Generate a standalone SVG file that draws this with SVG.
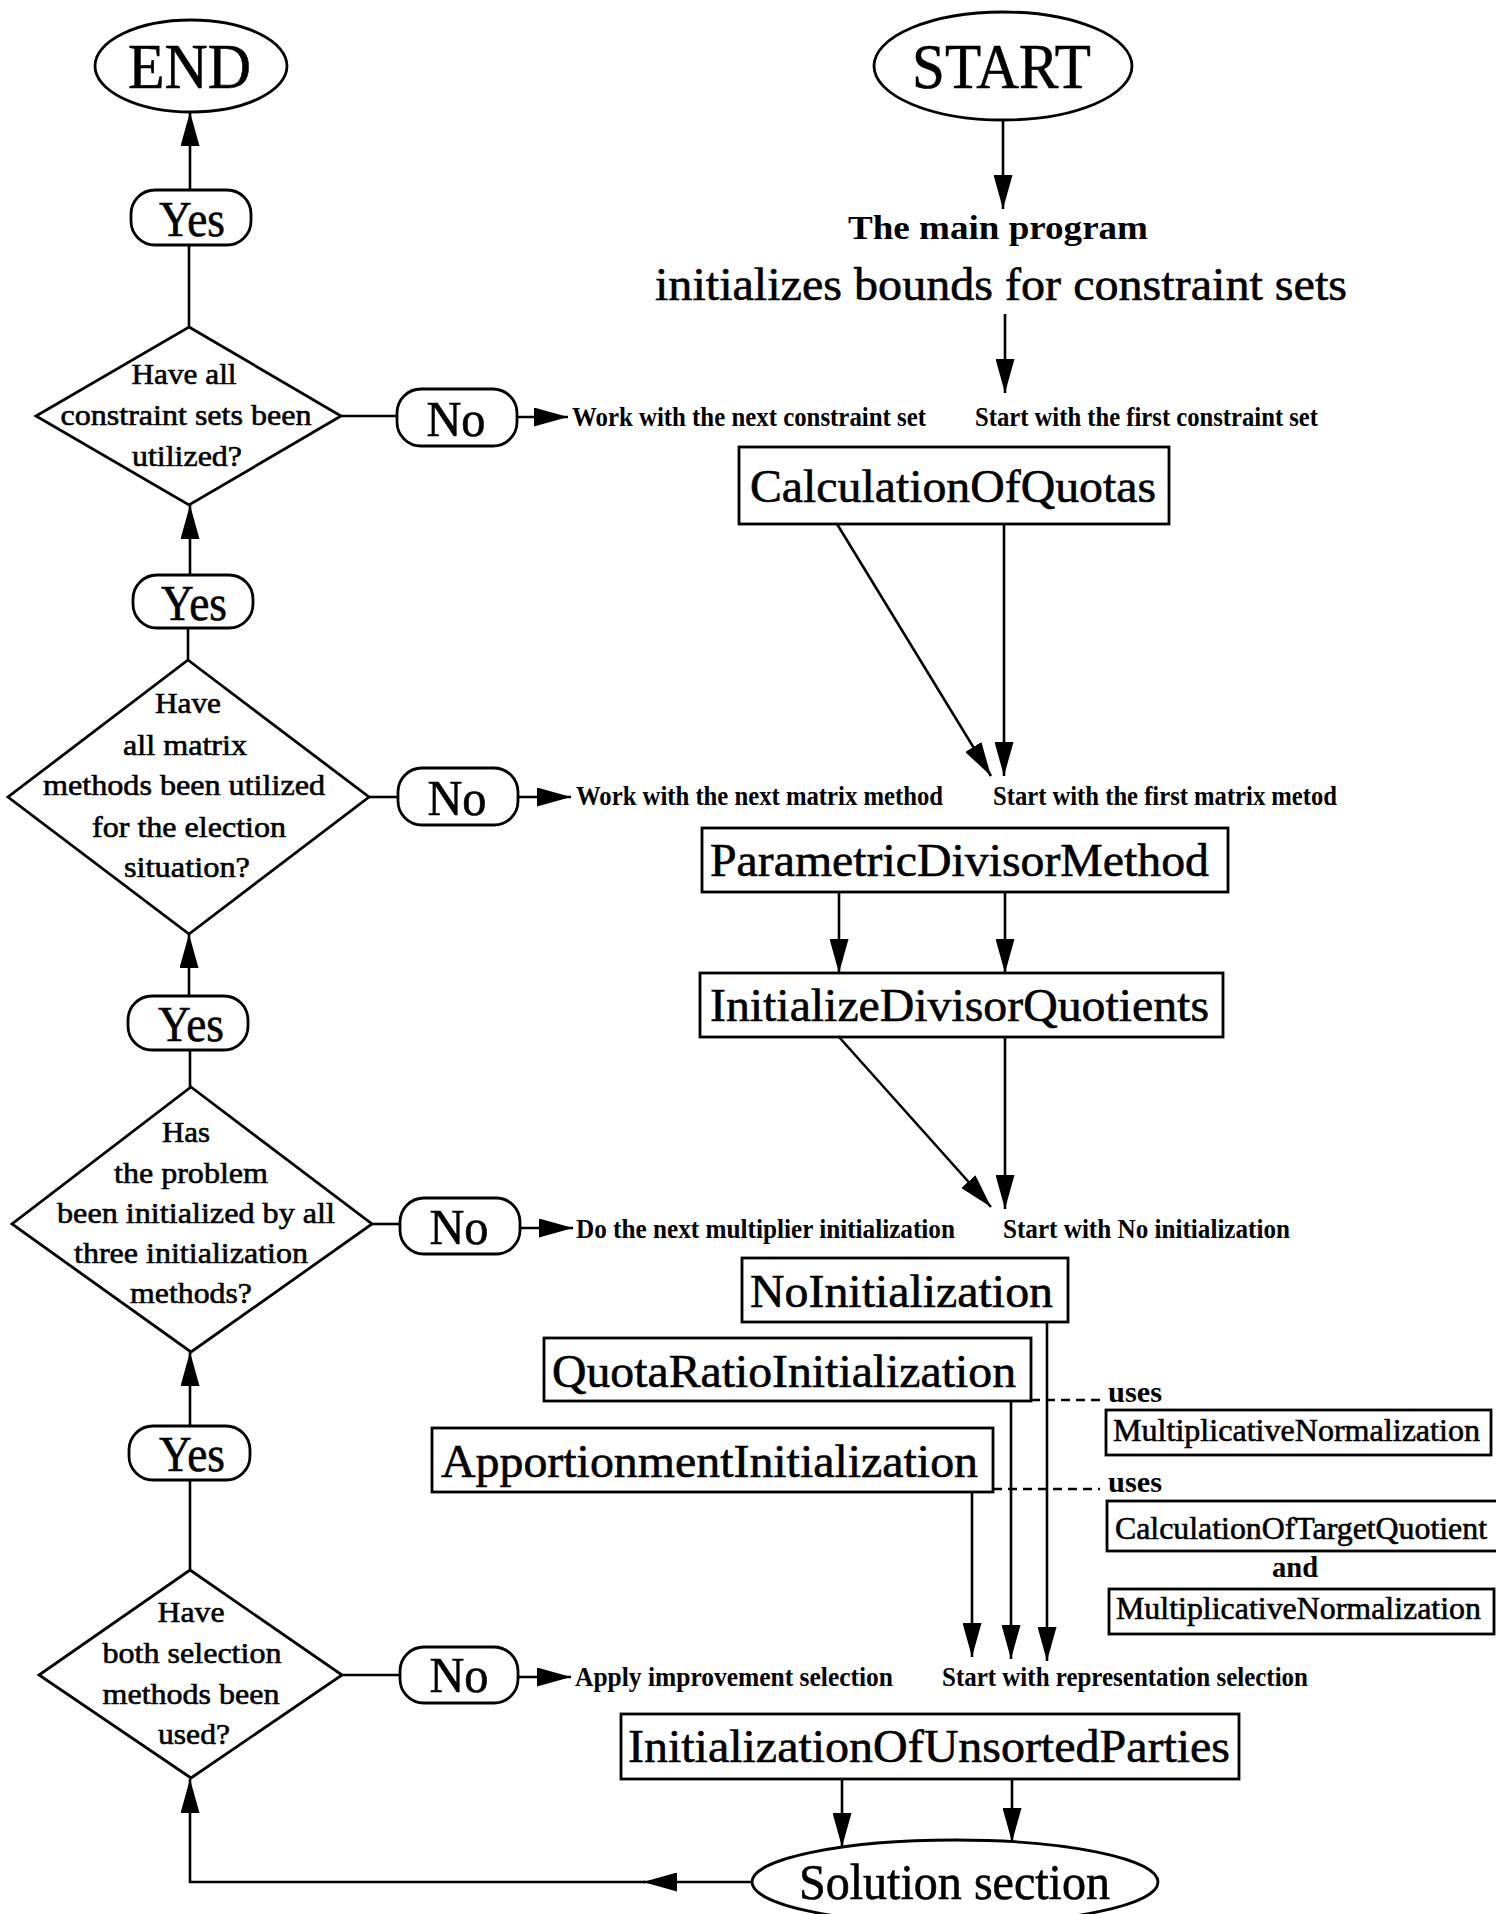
<svg xmlns="http://www.w3.org/2000/svg" width="1496" height="1914" viewBox="0 0 1496 1914">
  <style>
    .shape { fill: #fff; stroke: #000; stroke-width: 2.8; }
    .conn { fill: none; stroke: #000; stroke-width: 2.6; }
    .dash { fill: none; stroke: #000; stroke-width: 2.4; stroke-dasharray: 9 6; }
    text { font-family: "Liberation Serif", "Times New Roman", serif; fill: #000; }
    .heavy { stroke: #000; stroke-width: 0.6; }
    .term { font-size: 63px; }
    .pill { font-size: 50px; text-anchor: middle; }
    .dia { font-size: 30px; text-anchor: middle; }
    .box { font-size: 47px; }
    .sub { font-size: 32px; }
    .lbl { font-size: 27px; font-weight: bold; }
    .note { font-size: 30px; font-weight: bold; }
  </style>
  <defs>
    <marker id="ah" viewBox="0 0 34 19" refX="34" refY="9.5" markerWidth="34" markerHeight="19" markerUnits="userSpaceOnUse" orient="auto">
      <path d="M0,0 L34,9.5 L0,19 Z" fill="#000"/>
    </marker>
  </defs>
  <rect width="1496" height="1914" fill="#fff"/>

  <!-- connectors -->
  <g id="connectors">
    <!-- main column -->
    <path class="conn" d="M1003,120 L1003,209" marker-end="url(#ah)"/>
    <path class="conn" d="M1005,314 L1005,393" marker-end="url(#ah)"/>
    <path class="conn" d="M837,524 L991,776" marker-end="url(#ah)"/>
    <path class="conn" d="M1004,524 L1004,776" marker-end="url(#ah)"/>
    <path class="conn" d="M839,892 L839,973" marker-end="url(#ah)"/>
    <path class="conn" d="M1005,892 L1005,973" marker-end="url(#ah)"/>
    <path class="conn" d="M839,1037 L991,1207" marker-end="url(#ah)"/>
    <path class="conn" d="M1005,1037 L1005,1209" marker-end="url(#ah)"/>
    <path class="conn" d="M1047,1322 L1047,1661" marker-end="url(#ah)"/>
    <path class="conn" d="M1011,1401 L1011,1659" marker-end="url(#ah)"/>
    <path class="conn" d="M972,1492 L972,1657" marker-end="url(#ah)"/>
    <path class="dash" d="M1031,1400 L1102,1400"/>
    <path class="dash" d="M993,1489 L1100,1489"/>
    <path class="conn" d="M842,1779 L842,1847" marker-end="url(#ah)"/>
    <path class="conn" d="M1012,1779 L1012,1842" marker-end="url(#ah)"/>
    <!-- return path from the solution section -->
    <path class="conn" d="M752,1882 L643,1882" marker-end="url(#ah)"/>
    <path class="conn" d="M645,1882 L190,1882 L190,1779" marker-end="url(#ah)"/>
    <!-- decision column -->
    <path class="conn" d="M190,190 L190,112" marker-end="url(#ah)"/>
    <path class="conn" d="M189,327 L189,245"/>
    <path class="conn" d="M190,575 L190,505" marker-end="url(#ah)"/>
    <path class="conn" d="M188,660 L188,628"/>
    <path class="conn" d="M189,996 L189,934" marker-end="url(#ah)"/>
    <path class="conn" d="M190,1087 L190,1050"/>
    <path class="conn" d="M190,1426 L190,1352" marker-end="url(#ah)"/>
    <path class="conn" d="M190,1570 L190,1480"/>
    <!-- decision to No -->
    <path class="conn" d="M341,416 L397,416"/>
    <path class="conn" d="M369,797 L398,797"/>
    <path class="conn" d="M372,1224 L400,1224"/>
    <path class="conn" d="M342,1675 L400,1675"/>
    <!-- No to next step -->
    <path class="conn" d="M517,417 L568,417" marker-end="url(#ah)"/>
    <path class="conn" d="M518,797 L571,797" marker-end="url(#ah)"/>
    <path class="conn" d="M520,1228 L573,1228" marker-end="url(#ah)"/>
    <path class="conn" d="M518,1677 L571,1677" marker-end="url(#ah)"/>
  </g>

  <!-- terminals -->
  <g id="end">
    <ellipse class="shape" cx="191" cy="66" rx="96" ry="46"/>
    <text class="term heavy" x="128" y="88" textLength="123" lengthAdjust="spacingAndGlyphs">END</text>
  </g>
  <g id="start">
    <ellipse class="shape" cx="1003" cy="66" rx="129" ry="54"/>
    <text class="term heavy" x="912" y="88" textLength="179" lengthAdjust="spacingAndGlyphs">START</text>
  </g>

  <!-- main program -->
  <g id="main-program">
    <text x="848" y="239" font-size="34" font-weight="bold" textLength="300" lengthAdjust="spacingAndGlyphs">The main program</text>
    <text class="heavy" x="655" y="300" font-size="47" textLength="692" lengthAdjust="spacingAndGlyphs">initializes bounds for constraint sets</text>
  </g>

  <!-- step labels -->
  <g id="labels">
    <text class="lbl" x="572" y="426" textLength="354" lengthAdjust="spacingAndGlyphs">Work with the next constraint set</text>
    <text class="lbl" x="975" y="426" textLength="343" lengthAdjust="spacingAndGlyphs">Start with the first constraint set</text>
    <text class="lbl" x="576" y="805" textLength="367" lengthAdjust="spacingAndGlyphs">Work with the next matrix method</text>
    <text class="lbl" x="993" y="805" textLength="344" lengthAdjust="spacingAndGlyphs">Start with the first matrix metod</text>
    <text class="lbl" x="576" y="1238" textLength="379" lengthAdjust="spacingAndGlyphs">Do the next multiplier initialization</text>
    <text class="lbl" x="1003" y="1238" textLength="287" lengthAdjust="spacingAndGlyphs">Start with No initialization</text>
    <text class="lbl" x="575" y="1686" textLength="318" lengthAdjust="spacingAndGlyphs">Apply improvement selection</text>
    <text class="lbl" x="942" y="1686" textLength="366" lengthAdjust="spacingAndGlyphs">Start with representation selection</text>
  </g>

  <!-- procedures -->
  <g id="calculation-of-quotas">
    <rect class="shape" x="739" y="447" width="430" height="77"/>
    <text class="box heavy" x="750" y="502" textLength="406" lengthAdjust="spacingAndGlyphs">CalculationOfQuotas</text>
  </g>
  <g id="parametric-divisor-method">
    <rect class="shape" x="702" y="828" width="526" height="64"/>
    <text class="box heavy" x="710" y="876" textLength="499" lengthAdjust="spacingAndGlyphs">ParametricDivisorMethod</text>
  </g>
  <g id="initialize-divisor-quotients">
    <rect class="shape" x="700" y="973" width="523" height="64"/>
    <text class="box heavy" x="710" y="1021" textLength="499" lengthAdjust="spacingAndGlyphs">InitializeDivisorQuotients</text>
  </g>
  <g id="no-initialization">
    <rect class="shape" x="742" y="1258" width="326" height="64"/>
    <text class="box heavy" x="750" y="1307" textLength="303" lengthAdjust="spacingAndGlyphs">NoInitialization</text>
  </g>
  <g id="quota-ratio-initialization">
    <rect class="shape" x="544" y="1338" width="487" height="63"/>
    <text class="box heavy" x="552" y="1387" textLength="464" lengthAdjust="spacingAndGlyphs">QuotaRatioInitialization</text>
  </g>
  <g id="apportionment-initialization">
    <rect class="shape" x="432" y="1428" width="561" height="64"/>
    <text class="box heavy" x="441" y="1477" textLength="537" lengthAdjust="spacingAndGlyphs">ApportionmentInitialization</text>
  </g>
  <g id="initialization-of-unsorted-parties">
    <rect class="shape" x="621" y="1714" width="618" height="65"/>
    <text class="box heavy" x="628" y="1762" textLength="602" lengthAdjust="spacingAndGlyphs">InitializationOfUnsortedParties</text>
  </g>
  <g id="solution-section">
    <ellipse class="shape" cx="955" cy="1882" rx="203" ry="42"/>
    <text class="heavy" x="799" y="1899" font-size="51" textLength="311" lengthAdjust="spacingAndGlyphs">Solution section</text>
  </g>

  <!-- helper routines -->
  <g id="uses-1">
    <text class="note" x="1108" y="1402" textLength="54" lengthAdjust="spacingAndGlyphs">uses</text>
    <rect class="shape" x="1106" y="1410" width="385" height="45"/>
    <text class="sub heavy" x="1113" y="1441" textLength="367" lengthAdjust="spacingAndGlyphs">MultiplicativeNormalization</text>
  </g>
  <g id="uses-2">
    <text class="note" x="1108" y="1492" textLength="54" lengthAdjust="spacingAndGlyphs">uses</text>
    <rect class="shape" x="1107" y="1501" width="392" height="50"/>
    <text class="sub heavy" x="1115" y="1539" textLength="372" lengthAdjust="spacingAndGlyphs">CalculationOfTargetQuotient</text>
    <text class="note" x="1272" y="1577" textLength="46" lengthAdjust="spacingAndGlyphs">and</text>
    <rect class="shape" x="1109" y="1589" width="385" height="45"/>
    <text class="sub heavy" x="1116" y="1619" textLength="365" lengthAdjust="spacingAndGlyphs">MultiplicativeNormalization</text>
  </g>

  <!-- decisions -->
  <g id="decision-constraint-sets">
    <polygon class="shape" points="189,327 341,416 189,505 36,416"/>
    <text class="dia heavy" x="184" y="384" textLength="105" lengthAdjust="spacingAndGlyphs">Have all</text>
    <text class="dia heavy" x="186" y="425" textLength="251" lengthAdjust="spacingAndGlyphs">constraint sets been</text>
    <text class="dia heavy" x="187" y="466" textLength="110" lengthAdjust="spacingAndGlyphs">utilized?</text>
  </g>
  <g id="decision-matrix-methods">
    <polygon class="shape" points="188,660 369,797 189,934 8,797"/>
    <text class="dia heavy" x="188" y="713" textLength="66" lengthAdjust="spacingAndGlyphs">Have</text>
    <text class="dia heavy" x="185" y="755" textLength="124" lengthAdjust="spacingAndGlyphs">all matrix</text>
    <text class="dia heavy" x="184" y="795" textLength="282" lengthAdjust="spacingAndGlyphs">methods been utilized</text>
    <text class="dia heavy" x="189" y="837" textLength="194" lengthAdjust="spacingAndGlyphs">for the election</text>
    <text class="dia heavy" x="187" y="877" textLength="126" lengthAdjust="spacingAndGlyphs">situation?</text>
  </g>
  <g id="decision-initialization">
    <polygon class="shape" points="191,1087 372,1224 191,1352 12,1224"/>
    <text class="dia heavy" x="186" y="1142" textLength="48" lengthAdjust="spacingAndGlyphs">Has</text>
    <text class="dia heavy" x="191" y="1183" textLength="154" lengthAdjust="spacingAndGlyphs">the problem</text>
    <text class="dia heavy" x="196" y="1223" textLength="278" lengthAdjust="spacingAndGlyphs">been initialized by all</text>
    <text class="dia heavy" x="191" y="1263" textLength="234" lengthAdjust="spacingAndGlyphs">three initialization</text>
    <text class="dia heavy" x="191" y="1303" textLength="122" lengthAdjust="spacingAndGlyphs">methods?</text>
  </g>
  <g id="decision-selection">
    <polygon class="shape" points="190,1570 342,1675 191,1778 39,1675"/>
    <text class="dia heavy" x="191" y="1622" textLength="67" lengthAdjust="spacingAndGlyphs">Have</text>
    <text class="dia heavy" x="192" y="1663" textLength="179" lengthAdjust="spacingAndGlyphs">both selection</text>
    <text class="dia heavy" x="191" y="1704" textLength="177" lengthAdjust="spacingAndGlyphs">methods been</text>
    <text class="dia heavy" x="194" y="1744" textLength="72" lengthAdjust="spacingAndGlyphs">used?</text>
  </g>

  <!-- Yes answers -->
  <g id="yes-1">
    <rect class="shape" x="131" y="190" width="120" height="55" rx="24" ry="24"/>
    <text class="pill heavy" x="192" y="236" textLength="66" lengthAdjust="spacingAndGlyphs">Yes</text>
  </g>
  <g id="yes-2">
    <rect class="shape" x="133" y="575" width="120" height="53" rx="24" ry="24"/>
    <text class="pill heavy" x="194" y="620" textLength="66" lengthAdjust="spacingAndGlyphs">Yes</text>
  </g>
  <g id="yes-3">
    <rect class="shape" x="128" y="996" width="120" height="54" rx="24" ry="24"/>
    <text class="pill heavy" x="191" y="1041" textLength="66" lengthAdjust="spacingAndGlyphs">Yes</text>
  </g>
  <g id="yes-4">
    <rect class="shape" x="129" y="1426" width="121" height="54" rx="24" ry="24"/>
    <text class="pill heavy" x="192" y="1471" textLength="66" lengthAdjust="spacingAndGlyphs">Yes</text>
  </g>

  <!-- No answers -->
  <g id="no-1">
    <rect class="shape" x="397" y="389" width="120" height="57" rx="24" ry="24"/>
    <text class="pill heavy" x="456" y="436" textLength="59" lengthAdjust="spacingAndGlyphs">No</text>
  </g>
  <g id="no-2">
    <rect class="shape" x="398" y="768" width="120" height="57" rx="24" ry="24"/>
    <text class="pill heavy" x="457" y="815" textLength="59" lengthAdjust="spacingAndGlyphs">No</text>
  </g>
  <g id="no-3">
    <rect class="shape" x="400" y="1198" width="120" height="56" rx="24" ry="24"/>
    <text class="pill heavy" x="459" y="1244" textLength="59" lengthAdjust="spacingAndGlyphs">No</text>
  </g>
  <g id="no-4">
    <rect class="shape" x="400" y="1647" width="118" height="56" rx="24" ry="24"/>
    <text class="pill heavy" x="459" y="1692" textLength="59" lengthAdjust="spacingAndGlyphs">No</text>
  </g>
</svg>
